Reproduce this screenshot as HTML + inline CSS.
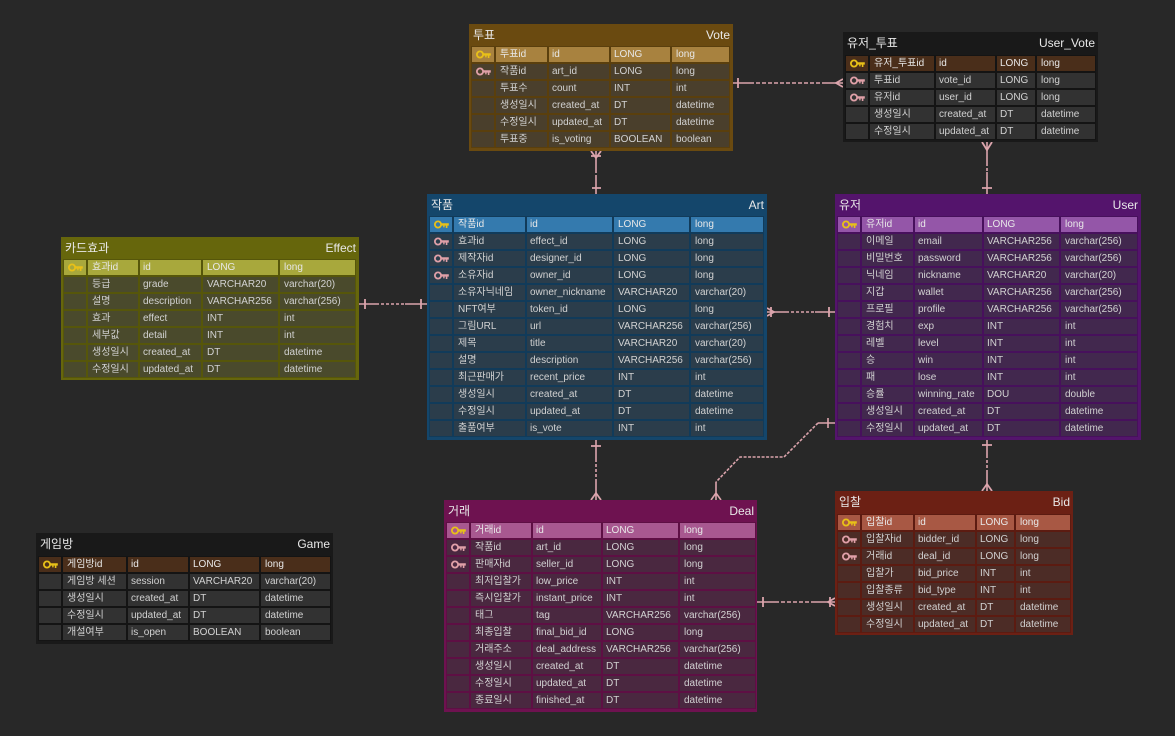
<!DOCTYPE html>
<html><head><meta charset="utf-8"><style>
html,body{margin:0;padding:0;background:#282828}
#p{position:relative;width:1175px;height:736px;overflow:hidden;background:#282828;font:10px/16px "Liberation Sans","Noto Sans CJK KR",sans-serif;color:#d2d2d2}
.e{position:absolute;box-sizing:border-box;background:var(--t)}
.tl,.tr{position:absolute;top:4px;font-size:12px;line-height:15px;color:#e8e8e8}
.tl{left:4px}.tr{right:3px}
.g{position:absolute;left:3px;display:grid;gap:2px;grid-auto-rows:15px;background:var(--d);outline:1px solid var(--d)}
.g span{background:var(--c);padding-left:3px;white-space:nowrap;overflow:hidden;line-height:16px;height:15px}
.g span:nth-child(5n){padding-left:4px}
.art .g span:nth-child(5n-1),.eff .g span:nth-child(5n-1){padding-left:4px}
.g .k{padding:0;position:relative}
.g .h{background:var(--h);color:#e8e8e8}
.g .n{line-height:16px;padding-left:4px}
.k svg{position:absolute;left:4px;top:3px}
.vote{--t:#6a4a10;--d:#5a3f0d;--c:#4a3f2c;--h:#a8823f}
.dark{--t:#191919;--d:#141414;--c:#323232;--h:#4a2e1a}
.art{--t:#14466b;--d:#113b5a;--c:#2b3d4b;--h:#347aae}
.user{--t:#54146c;--d:#47105c;--c:#42284e;--h:#9456a8}
.eff{--t:#66660c;--d:#56560a;--c:#4a4a2c;--h:#a8a83c}
.deal{--t:#6e1250;--d:#5e0f44;--c:#4a2840;--h:#a85890}
.bid{--t:#6c2014;--d:#5c1b11;--c:#4c2c26;--h:#a85844}
svg.c{position:absolute;left:0;top:0;pointer-events:none}
</style></head><body><div id="p">
<svg width="0" height="0" style="position:absolute"><defs>
<symbol id="key" viewBox="0 0 15 9"><circle cx="4" cy="4.5" r="3.1" fill="none" stroke="currentColor" stroke-width="1.8"/><path d="M7 3.2H14.8V5.6H13.4V8H11.8V5.6H10.6V7.4H9.2V5.6H7Z" fill="currentColor"/></symbol>
</defs></svg>

<svg class="c" width="1175" height="736" fill="none" stroke="#dba4ac" stroke-width="1.6">
<!-- Vote-Art -->
<path d="M596 151V170M596 176V194"/><path d="M596 170V176" stroke-dasharray="3 2"/><path d="M591 151L596 158L601 151M591 156H601M592 188H601" stroke-width="1.8"/>
<!-- Vote-UV -->
<path d="M733 83H750M825 83H843"/><path d="M750 83H825" stroke-dasharray="4 2"/><path d="M738 78V88M843 79L836 83L843 87" stroke-width="1.8"/>
<!-- UV-User -->
<path d="M987 142V163M987 172V194"/><path d="M987 163V172" stroke-dasharray="3 2"/><path d="M982 142L987 150L992 142M982 188H992" stroke-width="1.8"/>
<!-- Effect-Art -->
<path d="M359 304H376M405 304H427"/><path d="M376 304H405" stroke-dasharray="3 2"/><path d="M365 299V309M421 299V309" stroke-width="1.8"/>
<!-- Art-User -->
<path d="M767 312H786M815 312H835"/><path d="M786 312H815" stroke-dasharray="3 2"/><path d="M767 308L774 312L767 316M771 307V317M829 307V317" stroke-width="1.8"/>
<!-- Art-Deal -->
<path d="M596 440V459M596 482V500"/><path d="M596 459V482" stroke-dasharray="3 2"/><path d="M591 446H601M591 500L596 493L601 500" stroke-width="1.8"/>
<!-- User-Deal -->
<path d="M835 423H818"/><path d="M818 423L784 457H740L716 482" stroke-dasharray="3 1.5"/><path d="M716 482V500M711 500L716 493L721 500M828 418V428" />
<!-- User-Bid -->
<path d="M987 440V455M987 472V491"/><path d="M987 455V472" stroke-dasharray="3 2"/><path d="M982 445H992M982 491L987 484L992 491" stroke-width="1.8"/>
<!-- Deal-Bid -->
<path d="M757 602H775M812 602H835"/><path d="M775 602H812" stroke-dasharray="4 2"/><path d="M763 597V607M835 598L828 602L835 606M830 597V607" stroke-width="1.8"/>
</svg>

<!-- Vote -->
<div class="e vote" style="left:469px;top:24px;width:264px;height:127px"><div class="tl">투표</div><div class="tr">Vote</div>
<div class="g" style="top:23px;grid-template-columns:22px 51px 60px 59px 57px">
<span class="k h" style="color:#e8c018"><svg width="15" height="9"><use href="#key"/></svg></span><span class="h n">투표id</span><span class="h">id</span><span class="h">LONG</span><span class="h">long</span>
<span class="k" style="color:#e0a0a8"><svg width="15" height="9"><use href="#key"/></svg></span><span class="n">작품id</span><span>art_id</span><span>LONG</span><span>long</span>
<span class="k"></span><span class="n">투표수</span><span>count</span><span>INT</span><span>int</span>
<span class="k"></span><span class="n">생성일시</span><span>created_at</span><span>DT</span><span>datetime</span>
<span class="k"></span><span class="n">수정일시</span><span>updated_at</span><span>DT</span><span>datetime</span>
<span class="k"></span><span class="n">투표중</span><span>is_voting</span><span>BOOLEAN</span><span>boolean</span>
</div></div>

<!-- User_Vote -->
<div class="e dark" style="left:843px;top:32px;width:255px;height:110px"><div class="tl">유저_투표</div><div class="tr">User_Vote</div>
<div class="g" style="top:24px;grid-template-columns:22px 64px 59px 38px 58px">
<span class="k h" style="color:#e8c018"><svg width="15" height="9"><use href="#key"/></svg></span><span class="h n">유저_투표id</span><span class="h">id</span><span class="h">LONG</span><span class="h">long</span>
<span class="k" style="color:#e0a0a8"><svg width="15" height="9"><use href="#key"/></svg></span><span class="n">투표id</span><span>vote_id</span><span>LONG</span><span>long</span>
<span class="k" style="color:#e0a0a8"><svg width="15" height="9"><use href="#key"/></svg></span><span class="n">유저id</span><span>user_id</span><span>LONG</span><span>long</span>
<span class="k"></span><span class="n">생성일시</span><span>created_at</span><span>DT</span><span>datetime</span>
<span class="k"></span><span class="n">수정일시</span><span>updated_at</span><span>DT</span><span>datetime</span>
</div></div>

<!-- Art -->
<div class="e art" style="left:427px;top:194px;width:340px;height:246px"><div class="tl">작품</div><div class="tr">Art</div>
<div class="g" style="top:23px;grid-template-columns:22px 71px 85px 75px 72px">
<span class="k h" style="color:#e8c018"><svg width="15" height="9"><use href="#key"/></svg></span><span class="h n">작품id</span><span class="h">id</span><span class="h">LONG</span><span class="h">long</span>
<span class="k" style="color:#e0a0a8"><svg width="15" height="9"><use href="#key"/></svg></span><span class="n">효과id</span><span>effect_id</span><span>LONG</span><span>long</span>
<span class="k" style="color:#e0a0a8"><svg width="15" height="9"><use href="#key"/></svg></span><span class="n">제작자id</span><span>designer_id</span><span>LONG</span><span>long</span>
<span class="k" style="color:#e0a0a8"><svg width="15" height="9"><use href="#key"/></svg></span><span class="n">소유자id</span><span>owner_id</span><span>LONG</span><span>long</span>
<span class="k"></span><span class="n">소유자닉네임</span><span>owner_nickname</span><span>VARCHAR20</span><span>varchar(20)</span>
<span class="k"></span><span class="n">NFT여부</span><span>token_id</span><span>LONG</span><span>long</span>
<span class="k"></span><span class="n">그림URL</span><span>url</span><span>VARCHAR256</span><span>varchar(256)</span>
<span class="k"></span><span class="n">제목</span><span>title</span><span>VARCHAR20</span><span>varchar(20)</span>
<span class="k"></span><span class="n">설명</span><span>description</span><span>VARCHAR256</span><span>varchar(256)</span>
<span class="k"></span><span class="n">최근판매가</span><span>recent_price</span><span>INT</span><span>int</span>
<span class="k"></span><span class="n">생성일시</span><span>created_at</span><span>DT</span><span>datetime</span>
<span class="k"></span><span class="n">수정일시</span><span>updated_at</span><span>DT</span><span>datetime</span>
<span class="k"></span><span class="n">출품여부</span><span>is_vote</span><span>INT</span><span>int</span>
</div></div>

<!-- User -->
<div class="e user" style="left:835px;top:194px;width:306px;height:246px"><div class="tl">유저</div><div class="tr">User</div>
<div class="g" style="top:23px;grid-template-columns:22px 51px 67px 75px 76px">
<span class="k h" style="color:#e8c018"><svg width="15" height="9"><use href="#key"/></svg></span><span class="h n">유저id</span><span class="h">id</span><span class="h">LONG</span><span class="h">long</span>
<span class="k"></span><span class="n">이메일</span><span>email</span><span>VARCHAR256</span><span>varchar(256)</span>
<span class="k"></span><span class="n">비밀번호</span><span>password</span><span>VARCHAR256</span><span>varchar(256)</span>
<span class="k"></span><span class="n">닉네임</span><span>nickname</span><span>VARCHAR20</span><span>varchar(20)</span>
<span class="k"></span><span class="n">지갑</span><span>wallet</span><span>VARCHAR256</span><span>varchar(256)</span>
<span class="k"></span><span class="n">프로필</span><span>profile</span><span>VARCHAR256</span><span>varchar(256)</span>
<span class="k"></span><span class="n">경험치</span><span>exp</span><span>INT</span><span>int</span>
<span class="k"></span><span class="n">레벨</span><span>level</span><span>INT</span><span>int</span>
<span class="k"></span><span class="n">승</span><span>win</span><span>INT</span><span>int</span>
<span class="k"></span><span class="n">패</span><span>lose</span><span>INT</span><span>int</span>
<span class="k"></span><span class="n">승률</span><span>winning_rate</span><span>DOU</span><span>double</span>
<span class="k"></span><span class="n">생성일시</span><span>created_at</span><span>DT</span><span>datetime</span>
<span class="k"></span><span class="n">수정일시</span><span>updated_at</span><span>DT</span><span>datetime</span>
</div></div>

<!-- Effect -->
<div class="e eff" style="left:61px;top:237px;width:298px;height:143px"><div class="tl">카드효과</div><div class="tr">Effect</div>
<div class="g" style="top:23px;grid-template-columns:22px 50px 61px 75px 75px">
<span class="k h" style="color:#e8c018"><svg width="15" height="9"><use href="#key"/></svg></span><span class="h n">효과id</span><span class="h">id</span><span class="h">LONG</span><span class="h">long</span>
<span class="k"></span><span class="n">등급</span><span>grade</span><span>VARCHAR20</span><span>varchar(20)</span>
<span class="k"></span><span class="n">설명</span><span>description</span><span>VARCHAR256</span><span>varchar(256)</span>
<span class="k"></span><span class="n">효과</span><span>effect</span><span>INT</span><span>int</span>
<span class="k"></span><span class="n">세부값</span><span>detail</span><span>INT</span><span>int</span>
<span class="k"></span><span class="n">생성일시</span><span>created_at</span><span>DT</span><span>datetime</span>
<span class="k"></span><span class="n">수정일시</span><span>updated_at</span><span>DT</span><span>datetime</span>
</div></div>

<!-- Deal -->
<div class="e deal" style="left:444px;top:500px;width:313px;height:212px"><div class="tl">거래</div><div class="tr">Deal</div>
<div class="g" style="top:23px;grid-template-columns:22px 60px 68px 75px 75px">
<span class="k h" style="color:#e8c018"><svg width="15" height="9"><use href="#key"/></svg></span><span class="h n">거래id</span><span class="h">id</span><span class="h">LONG</span><span class="h">long</span>
<span class="k" style="color:#e0a0a8"><svg width="15" height="9"><use href="#key"/></svg></span><span class="n">작품id</span><span>art_id</span><span>LONG</span><span>long</span>
<span class="k" style="color:#e0a0a8"><svg width="15" height="9"><use href="#key"/></svg></span><span class="n">판매자id</span><span>seller_id</span><span>LONG</span><span>long</span>
<span class="k"></span><span class="n">최저입찰가</span><span>low_price</span><span>INT</span><span>int</span>
<span class="k"></span><span class="n">즉시입찰가</span><span>instant_price</span><span>INT</span><span>int</span>
<span class="k"></span><span class="n">태그</span><span>tag</span><span>VARCHAR256</span><span>varchar(256)</span>
<span class="k"></span><span class="n">최종입찰</span><span>final_bid_id</span><span>LONG</span><span>long</span>
<span class="k"></span><span class="n">거래주소</span><span>deal_address</span><span>VARCHAR256</span><span>varchar(256)</span>
<span class="k"></span><span class="n">생성일시</span><span>created_at</span><span>DT</span><span>datetime</span>
<span class="k"></span><span class="n">수정일시</span><span>updated_at</span><span>DT</span><span>datetime</span>
<span class="k"></span><span class="n">종료일시</span><span>finished_at</span><span>DT</span><span>datetime</span>
</div></div>

<!-- Bid -->
<div class="e bid" style="left:835px;top:491px;width:238px;height:144px"><div class="tl">입찰</div><div class="tr">Bid</div>
<div class="g" style="top:24px;grid-template-columns:22px 51px 60px 37px 54px">
<span class="k h" style="color:#e8c018"><svg width="15" height="9"><use href="#key"/></svg></span><span class="h n">입찰id</span><span class="h">id</span><span class="h">LONG</span><span class="h">long</span>
<span class="k" style="color:#e0a0a8"><svg width="15" height="9"><use href="#key"/></svg></span><span class="n">입찰자id</span><span>bidder_id</span><span>LONG</span><span>long</span>
<span class="k" style="color:#e0a0a8"><svg width="15" height="9"><use href="#key"/></svg></span><span class="n">거래id</span><span>deal_id</span><span>LONG</span><span>long</span>
<span class="k"></span><span class="n">입찰가</span><span>bid_price</span><span>INT</span><span>int</span>
<span class="k"></span><span class="n">입찰종류</span><span>bid_type</span><span>INT</span><span>int</span>
<span class="k"></span><span class="n">생성일시</span><span>created_at</span><span>DT</span><span>datetime</span>
<span class="k"></span><span class="n">수정일시</span><span>updated_at</span><span>DT</span><span>datetime</span>
</div></div>

<!-- Game -->
<div class="e dark" style="left:36px;top:533px;width:297px;height:111px"><div class="tl">게임방</div><div class="tr">Game</div>
<div class="g" style="top:24px;grid-template-columns:22px 63px 60px 69px 69px">
<span class="k h" style="color:#e8c018"><svg width="15" height="9"><use href="#key"/></svg></span><span class="h n">게임방id</span><span class="h">id</span><span class="h">LONG</span><span class="h">long</span>
<span class="k"></span><span class="n">게임방 세션</span><span>session</span><span>VARCHAR20</span><span>varchar(20)</span>
<span class="k"></span><span class="n">생성일시</span><span>created_at</span><span>DT</span><span>datetime</span>
<span class="k"></span><span class="n">수정일시</span><span>updated_at</span><span>DT</span><span>datetime</span>
<span class="k"></span><span class="n">개설여부</span><span>is_open</span><span>BOOLEAN</span><span>boolean</span>
</div></div>
</div></body></html>
